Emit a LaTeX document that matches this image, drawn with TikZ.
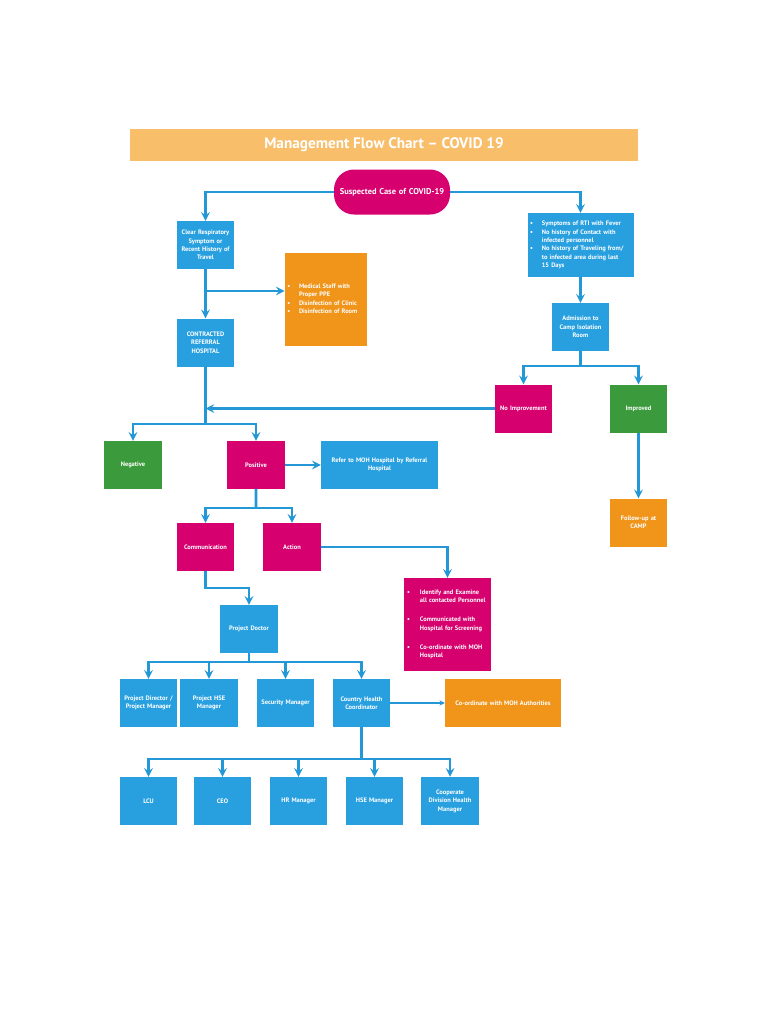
\documentclass[tikz,border=0pt]{standalone}
\usepackage{fontspec}
\setmainfont{PT Sans}
\usepackage{array}
\usetikzlibrary{shapes.geometric, arrows, positioning}

\definecolor{flowblue}{RGB}{40,160,224}
\definecolor{flowpink}{RGB}{214,0,110}
\definecolor{floworange}{RGB}{240,148,26}
\definecolor{flowgreen}{RGB}{58,154,60}
\definecolor{titlebar}{RGB}{248,190,106}
\definecolor{lineblue}{RGB}{36,152,214}

\newcommand{\boxfont}{\bfseries\fontsize{5.5}{7.2}\selectfont}
\newcolumntype{B}[1]{>{\raggedright\arraybackslash}p{#1}}

\tikzstyle{base} = [rectangle, minimum width=1.71cm, minimum height=1.44cm, text centered, text width=1.65cm, inner sep=1pt, text=white, font=\boxfont]
\tikzstyle{bluebox} = [base, fill=flowblue]
\tikzstyle{pinkbox} = [base, fill=flowpink]
\tikzstyle{orangebox} = [base, fill=floworange]
\tikzstyle{greenbox} = [base, fill=flowgreen]
\tikzstyle{line} = [line width=2.2pt, draw=lineblue]
\tikzstyle{arrow} = [line, ->, >=stealth]
\tikzstyle{thinarrow} = [line width=1pt, draw=lineblue, ->, >=stealth]

\begin{document}
\begin{tikzpicture}[x=0.03cm, y=-0.03cm]

\useasboundingbox (0,0) rectangle (768,1024);

%% NODES

\node (title) [rectangle, fill=titlebar, minimum width=15.24cm, minimum height=0.96cm, text=white, font=\bfseries\fontsize{13}{15}\selectfont] at (384,145) {Management Flow Chart -- COVID 19};

\node (suspect) [pinkbox, rounded corners=0.6cm, minimum width=3.48cm, minimum height=1.35cm, text width=3.3cm, font=\bfseries\fontsize{7.2}{9}\selectfont] at (392,192) {Suspected Case of COVID-19};

% left branch
\node (clear) [bluebox] at (205.5,245) {Clear Respiratory\\ Symptom or\\ Recent History of\\ Travel};
\node (medical) [orangebox, minimum width=2.46cm, minimum height=2.79cm, text width=2.4cm] at (326,299.5) {\begin{tabular}{@{}B{10pt}@{}B{56pt}@{}}
\textbullet & Medical Staff with\newline Proper PPE\\
\textbullet & Disinfection of Clinic\\
\textbullet & Disinfection of Room
\end{tabular}};
\node (contracted) [bluebox] at (205.5,342.5) {CONTRACTED\\ REFERRAL\\ HOSPITAL};

% right branch
\node (symptoms) [bluebox, minimum width=3.18cm, minimum height=1.92cm, text width=3.1cm] at (580.5,245) {\begin{tabular}{@{}B{10pt}@{}B{76pt}@{}}
\textbullet & Symptoms of RTI with Fever\\
\textbullet & No history of Contact with\newline infected personnel\\
\textbullet & No history of Traveling from/\newline to infected area during last\newline 15 Days
\end{tabular}};
\node (admission) [bluebox, minimum width=1.65cm] at (580.5,327) {Admission to\\ Camp Isolation\\ Room};
\node (noimp) [pinkbox] at (523.5,408.5) {No Improvement};
\node (improved) [greenbox, right of=noimp, node distance=3.45cm] {Improved};
\node (followup) [orangebox, below of=improved, node distance=3.42cm] {Follow-up at\\ CAMP};

% test result
\node (negative) [greenbox] at (133,465) {Negative};
\node (positive) [pinkbox, right of=negative, node distance=3.69cm] {Positive};
\node (refer) [bluebox, right of=positive, node distance=3.705cm, minimum width=3.51cm, text width=3.3cm] {Refer to MOH Hospital by Referral\\ Hospital};

\node (communication) [pinkbox] at (205.5,547) {Communication};
\node (action) [pinkbox, right of=communication, node distance=2.595cm] {Action};
\node (identify) [pinkbox, minimum width=2.61cm, minimum height=2.79cm, text width=2.5cm] at (447.5,624.5) {\begin{tabular}{@{}B{11pt}@{}B{58pt}@{}}
\textbullet & Identify and Examine\newline all contacted Personnel\\ \noalign{\vskip 9pt}
\textbullet & Communicated with\newline Hospital for Screening\\ \noalign{\vskip 9pt}
\textbullet & Co-ordinate with MOH\newline Hospital
\end{tabular}};

\node (doctor) [bluebox] at (249,629) {Project Doctor};

% first row
\node (pdir) [bluebox] at (148.5,703) {Project Director /\\ Project Manager};
\node (phse) [bluebox, right of=pdir, node distance=1.815cm] {Project HSE\\ Manager};
\node (security) [bluebox, right of=phse, node distance=2.295cm] {Security Manager};
\node (country) [bluebox, right of=security, node distance=2.28cm] {Country Health\\ Coordinator};
\node (coord) [orangebox, right of=country, node distance=4.245cm, minimum width=3.48cm, text width=3.3cm] {Co-ordinate with MOH Authorities};

% second row
\node (lcu) [bluebox] at (148.5,801) {LCU};
\node (ceo) [bluebox, right of=lcu, node distance=2.22cm] {CEO};
\node (hr) [bluebox, right of=ceo, node distance=2.28cm] {HR Manager};
\node (hse) [bluebox, right of=hr, node distance=2.28cm] {HSE Manager};
\node (coop) [bluebox, right of=hse, node distance=2.265cm] {Cooperate\\ Division Health\\ Manager};

\coordinate (ppejoin) at (205.5,291);
\coordinate (hospsplit) at (205.5,424);
\coordinate (campsplit) at (580.5,366);
\coordinate (possplit) at (256,508);
\coordinate (commturn) at (205.5,588);
\coordinate (docsplit) at (249,662);
\coordinate (chcsplit) at (361.5,759);

%% ARROWS

\draw [arrow] (suspect.west) -| (clear.north);
\draw [arrow] (suspect.east) -| (symptoms.north);
\draw [arrow] (clear.south) -- (contracted.north);
\draw [arrow] (ppejoin) -- (ppejoin -| medical.west);

\draw [line] (contracted.south) -- (hospsplit);
\draw [arrow] (hospsplit) -| (negative.north);
\draw [arrow] (hospsplit) -| (positive.north);
\draw [arrow] (noimp.west) -- (noimp.west -| hospsplit);

\draw [arrow] (symptoms.south) -- (admission.north);
\draw [line] (admission.south) -- (campsplit);
\draw [arrow] (campsplit) -| (noimp.north);
\draw [arrow] (campsplit) -| (improved.north);
\draw [arrow] (improved.south) -- (followup.north);

\draw [arrow] (positive.east) -- (refer.west);
\draw [line] (positive.south) -- (possplit);
\draw [arrow] (possplit) -| (communication.north);
\draw [arrow] (possplit) -| (action.north);
\draw [arrow] (action.east) -| (identify.north);
\draw [arrow] (communication.south) -- (commturn) -| (doctor.north);

\draw [line] (doctor.south) -- (docsplit);
\draw [arrow] (docsplit) -| (pdir.north);
\draw [arrow] (docsplit) -| (phse.north);
\draw [arrow] (docsplit) -| (security.north);
\draw [arrow] (docsplit) -| (country.north);
\draw [thinarrow] (country.east) -- (coord.west);

\draw [line] (country.south) -- (chcsplit);
\draw [arrow] (chcsplit) -| (lcu.north);
\draw [arrow] (chcsplit) -| (ceo.north);
\draw [arrow] (chcsplit) -| (hr.north);
\draw [arrow] (chcsplit) -| (hse.north);
\draw [arrow] (chcsplit) -| (coop.north);

\end{tikzpicture}
\end{document}
